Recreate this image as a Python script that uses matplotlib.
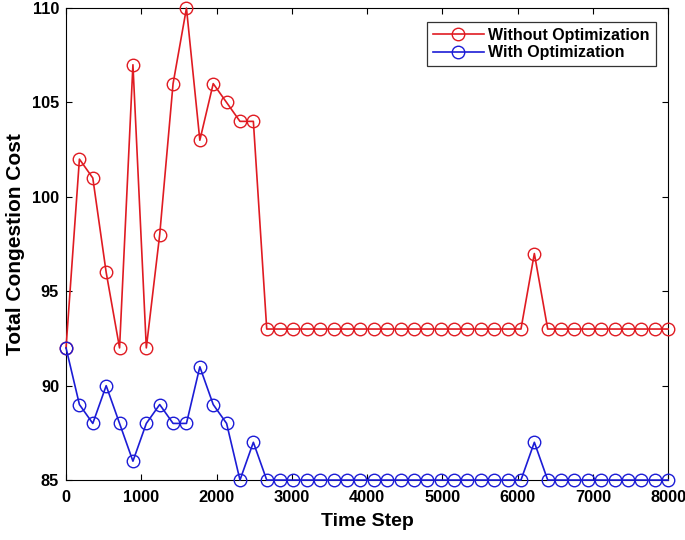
import matplotlib
matplotlib.use("Agg")
import matplotlib.pyplot as plt
import numpy as np

plt.rcParams['font.family'] = ['Liberation Sans', 'DejaVu Sans']
plt.rcParams['font.weight'] = 'bold'

steps = np.linspace(0, 8000, 46)
without_opt = [92, 102, 101, 96, 92, 107, 92, 98, 106, 110, 103, 106, 105, 104, 104] + [93] * 20 + [97] + [93] * 10
with_opt = [92, 89, 88, 90, 88, 86, 88, 89, 88, 88, 91, 89, 88, 85, 87] + [85] * 20 + [87] + [85] * 10

fig = plt.figure(figsize=(6.85, 5.4), dpi=100)
ax = fig.add_axes([0.0964, 0.111, 0.879, 0.874])
ax.plot(steps, without_opt, color="#e01b22", marker="o", markersize=9, markerfacecolor="none",
        linewidth=1.2, label="Without Optimization", clip_on=False, zorder=3)
ax.plot(steps, with_opt, color="#1c1cd6", marker="o", markersize=9, markerfacecolor="none",
        linewidth=1.2, label="With Optimization", clip_on=False, zorder=3)

ax.set_xlim(0, 8000)
ax.set_ylim(85, 110)
ax.set_xticks(np.arange(0, 8001, 1000))
ax.set_yticks(np.arange(85, 111, 5))
ax.tick_params(axis="both", direction="in", top=True, right=True, labelsize=11.8, length=4)
ax.tick_params(axis="x", pad=7)
ax.tick_params(axis="y", pad=5)
for lab in ax.get_xticklabels() + ax.get_yticklabels():
    lab.set_fontweight("bold")
ax.set_xlabel("Time Step", fontsize=14, fontweight="bold", labelpad=6)
ax.set_ylabel("Total Congestion Cost", fontsize=15, fontweight="bold", labelpad=5)
leg = ax.legend(loc="upper right", bbox_to_anchor=(0.979, 0.97), fontsize=11.5, frameon=True,
                fancybox=False, edgecolor="black", borderaxespad=0.0, handlelength=3.2,
                handletextpad=0.3, labelspacing=0.15, borderpad=0.35)
leg.get_frame().set_linewidth(0.9)
plt.savefig("out.png", dpi=100)
